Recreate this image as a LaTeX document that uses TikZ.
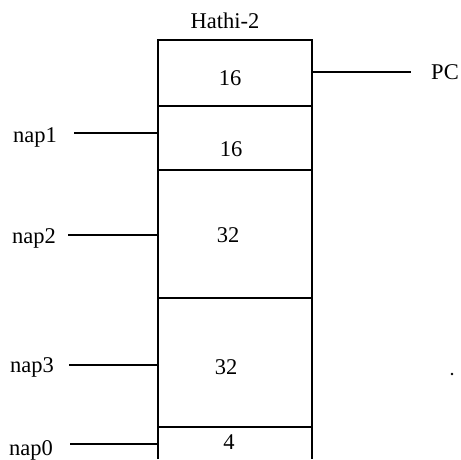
\documentclass[tikz,border=0pt]{standalone}
\usepackage{fontspec}
\setmainfont{Liberation Serif}
\begin{document}
\begin{tikzpicture}[x=1pt,y=-1pt,
  frame/.style={line width=2.1pt},
  lead/.style={line width=1.9pt},
  lbl/.style={inner sep=0pt, font=\fontsize{22.5}{26}\selectfont}]
\useasboundingbox (0,0) rectangle (461,459);

% outline of the memory column (open at the bottom)
\draw[frame] (158,459) -- (158,40) -- (312,40) -- (312,459);
\foreach \y in {106,170,298,427}
  \draw[frame] (158,\y) -- (312,\y);

% column title and segment sizes
\node[lbl] (title) at (225,21) {Hathi-2};
\node[lbl] (s1) at (230,78) {16};
\node[lbl] (s2) at (231,149) {16};
\node[lbl] (s3) at (228,235) {32};
\node[lbl] (s4) at (226,367) {32};
\node[lbl] (s5) at (229,442) {4};

% attachment points on the column edges
\coordinate (pcA) at (312,72);
\coordinate (n1A) at (158,133);
\coordinate (n2A) at (158,235);
\coordinate (n3A) at (157,365);
\coordinate (n0A) at (157,444);

% external labels
\node[lbl] (pc) at (445,72) {PC};
\node[lbl] (n1) at (35,137) {nap1};
\node[lbl] (n2) at (34,238) {nap2};
\node[lbl] (n3) at (32,367) {nap3};
\node[lbl] (n0) at (31,450) {nap0};

% leads
\draw[lead] (pcA) -- ([xshift=-20pt]pc.west |- pcA);
\draw[lead] ([xshift=17pt]n1.east |- n1A) -- (n1A);
\draw[lead] ([xshift=12pt]n2.east |- n2A) -- (n2A);
\draw[lead] ([xshift=15pt]n3.east |- n3A) -- (n3A);
\draw[lead] ([xshift=17pt]n0.east |- n0A) -- (n0A);

% stray mark
\fill (452,374) circle (1.4pt);
\end{tikzpicture}
\end{document}
